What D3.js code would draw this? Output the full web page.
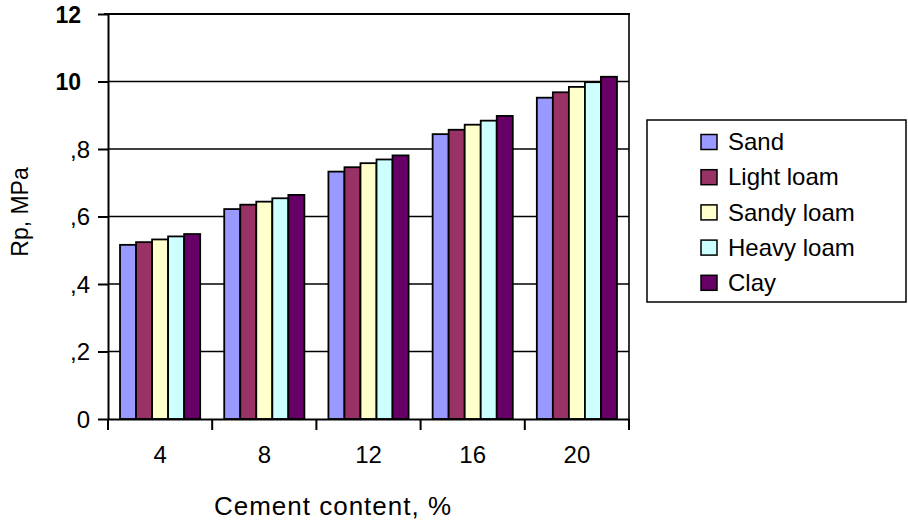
<!DOCTYPE html>
<html><head><meta charset="utf-8">
<script src="https://cdn.jsdelivr.net/npm/d3@7"></script>
<style>
html,body{margin:0;padding:0;background:#fff;}
svg{display:block;font-family:"Liberation Sans",Arial,sans-serif;}
</style></head>
<body>
<svg id="chart" width="908" height="521"></svg>
<script>
const categories = ["4", "8", "12", "16", "20"];
const seriesNames = ["Sand", "Light loam", "Sandy loam", "Heavy loam", "Clay"];
const sand      = [5.16, 6.22, 7.33, 8.44, 9.52];
const lightLoam = [5.24, 6.35, 7.46, 8.57, 9.68];
const sandyLoam = [5.32, 6.44, 7.58, 8.72, 9.84];
const heavyLoam = [5.41, 6.54, 7.69, 8.84, 9.98];
const clay      = [5.48, 6.64, 7.81, 8.98, 10.14];
const yTickValues = [0, 2, 4, 6, 8, 10, 12];
const yTickLabels = ["0", ",2", ",4", ",6", ",8", "10", "12"];
const colors = ["#9999FF", "#993366", "#FFFFCC", "#CCFFFF", "#660066"];
const xTitle = "Cement content, %";
const yTitle = "Rp, MPa";

(function () {
const series = [sand, lightLoam, sandyLoam, heavyLoam, clay];
const svg = d3.select("#chart");
const pL = 108, pR = 629, pT = 14, pB = 419;

const x = d3.scaleBand().domain(categories).range([pL, pR]).paddingInner(0).paddingOuter(0);
const barW = x.bandwidth() / (series.length + 1.5);
const x1 = d3.scaleBand().domain(d3.range(series.length))
  .range([0, barW * series.length]);
const y = d3.scaleLinear().domain([0, 12]).range([pB, pT]);

// gridlines
svg.append("g").selectAll("line").data(yTickValues.filter(v => v > 0)).join("line")
  .attr("x1", pL).attr("x2", pR)
  .attr("y1", d => y(d)).attr("y2", d => y(d))
  .attr("stroke", "#000").attr("stroke-width", 1.5);

// plot border right
svg.append("line").attr("x1", pR).attr("x2", pR).attr("y1", pT).attr("y2", pB)
  .attr("stroke", "#000").attr("stroke-width", 1.6);

// bars
const groups = svg.append("g").selectAll("g").data(categories).join("g")
  .attr("transform", d => `translate(${x(d) + (x.bandwidth() - barW * series.length) / 2},0)`);
groups.selectAll("rect").data((c, i) => series.map((s, j) => ({ j, v: s[i] }))).join("rect")
  .attr("x", d => x1(d.j))
  .attr("width", x1.bandwidth())
  .attr("y", d => y(d.v))
  .attr("height", d => y(0) - y(d.v))
  .attr("fill", d => colors[d.j])
  .attr("stroke", "#000").attr("stroke-width", 1.8);

// y axis
const yAxis = d3.axisLeft(y).tickValues(yTickValues).tickSize(10).tickSizeOuter(0)
  .tickFormat((d, i) => yTickLabels[i]);
const gy = svg.append("g").attr("transform", `translate(${pL},0)`).call(yAxis);
gy.select(".domain").attr("stroke", "#000").attr("stroke-width", 2);
gy.selectAll(".tick line").attr("stroke", "#000").attr("stroke-width", 2);
gy.selectAll(".tick text")
  .attr("fill", "#000")
  .style("font-family", '"Liberation Sans",Arial,sans-serif')
  .style("font-size", d => d >= 10 ? "23px" : "24px")
  .style("font-weight", d => d >= 10 ? "bold" : "normal")
  .attr("x", d => d >= 10 ? -27 : -18)
  .attr("dy", "0.35em");

// x axis
const xAxis = d3.axisBottom(x).tickSize(0).tickSizeOuter(0);
const gx = svg.append("g").attr("transform", `translate(0,${pB})`).call(xAxis);
gx.select(".domain").attr("stroke", "#000").attr("stroke-width", 2);
gx.selectAll(".tick text").attr("fill", "#000")
  .style("font-family", '"Liberation Sans",Arial,sans-serif')
  .style("font-size", "24px").attr("y", 27).attr("dy", "0.71em");
// category boundary ticks
const bounds = categories.map(c => x(c)).concat([pR]);
svg.append("g").selectAll("line").data(bounds).join("line")
  .attr("x1", d => d).attr("x2", d => d)
  .attr("y1", pB).attr("y2", pB + 11)
  .attr("stroke", "#000").attr("stroke-width", 2);

// top border
svg.append("line").attr("x1", pL - 4).attr("x2", pR + 1).attr("y1", pT).attr("y2", pT)
  .attr("stroke", "#000").attr("stroke-width", 2);

// axis titles
svg.append("text").attr("x", 333).attr("y", 515).attr("text-anchor", "middle")
  .style("font-size", "26px").attr("fill", "#000").style("letter-spacing", "1px").text(xTitle);
svg.append("text").attr("transform", "translate(28,212) rotate(-90)").attr("text-anchor", "middle")
  .style("font-size", "23px").attr("fill", "#000").text(yTitle);

// legend
const lg = svg.append("g");
lg.append("rect").attr("x", 647).attr("y", 120).attr("width", 259).attr("height", 182)
  .attr("fill", "#fff").attr("stroke", "#000").attr("stroke-width", 1.5);
const items = lg.selectAll("g.item").data(seriesNames).join("g").attr("class", "item")
  .attr("transform", (d, i) => `translate(701,${141.5 + i * 35.2})`);
items.append("rect").attr("x", 0).attr("y", -7).attr("width", 16).attr("height", 15)
  .attr("fill", (d, i) => colors[i]).attr("stroke", "#000").attr("stroke-width", 1.5);
items.append("text").attr("x", 27).attr("y", 0).attr("dy", "0.36em")
  .style("font-size", "24px").attr("fill", "#000").text(d => d);
})();
</script>
</body></html>
